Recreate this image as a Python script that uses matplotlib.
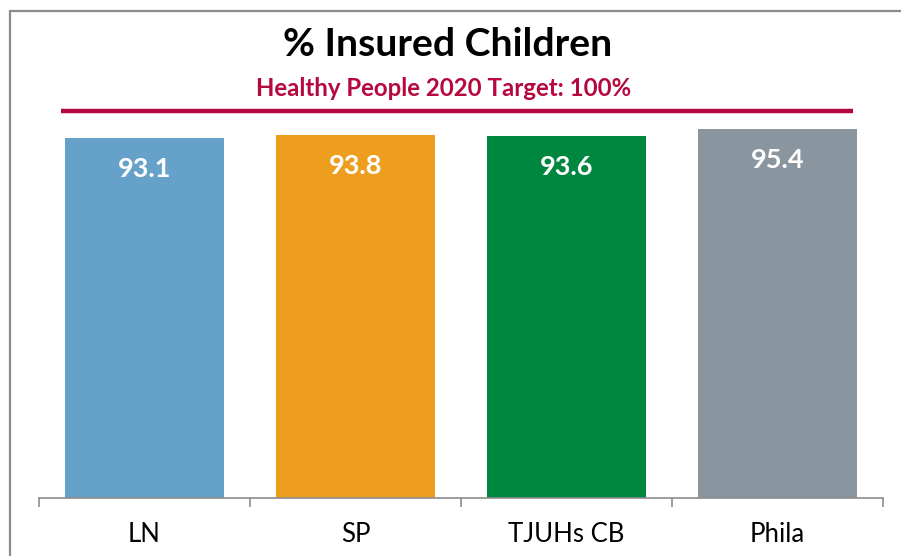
import numpy as np
import matplotlib
matplotlib.use("Agg")
import matplotlib.pyplot as plt
from matplotlib.patches import Rectangle

plt.rcParams["font.family"] = ["Lato", "DejaVu Sans"]

# data
areas = ["LN", "SP", "TJUHs CB", "Phila"]
insured = [93.1, 93.8, 93.6, 95.4]
bar_colors = ["#65A1C9", "#EE9E1E", "#00873F", "#8A969F"]
target = 100
target_label = "Healthy People 2020 Target: 100%"

W, H = 901, 556
fig = plt.figure(figsize=(W / 100, H / 100), dpi=100)

# chart border (the frame runs off the right/bottom edges of the picture)
fig.patches.append(Rectangle((10 / W, -0.05), 1.0, 1 - 11 / H + 0.05,
                             transform=fig.transFigure, fill=False,
                             edgecolor="#8C8C8C", lw=1.6))

ax = fig.add_axes([39 / W, 58 / H, (883 - 39) / W, (498 - 11) / H])
x = np.arange(len(areas))
bars = ax.bar(x, insured, width=0.755, color=bar_colors)
ax.set_xlim(-0.5, len(areas) - 0.5)
ax.set_ylim(0, 125.9)

for b, v in zip(bars, insured):
    ax.annotate(f"{v:.1f}", (b.get_x() + b.get_width() / 2, v),
                xytext=(0, -22.5), textcoords="offset points",
                ha="center", va="center", color="white",
                fontsize=19.5, fontweight="bold")

# target line
ax.plot([-0.396, 3.358], [target, target], color="#B5083F", lw=3.2,
        solid_capstyle="butt", clip_on=False)

for s in ["top", "right", "left"]:
    ax.spines[s].set_visible(False)
ax.spines["bottom"].set_color("#8C8C8C")
ax.spines["bottom"].set_linewidth(1.2)
ax.set_yticks([])
ax.set_xticks(x)
ax.set_xticklabels(areas, fontsize=18.5, color="black")
ax.tick_params(axis="x", which="major", length=0, pad=17)
ax.set_xticks(np.arange(len(areas) + 1) - 0.5, minor=True)
ax.tick_params(axis="x", which="minor", length=6.5, width=1.2,
               color="#8C8C8C", direction="out")

fig.text(448 / W, 1 - 45 / H, "% Insured Children", ha="center", va="center",
         fontsize=28.2, fontweight="bold", color="black")
fig.text(444 / W, 1 - 89 / H, target_label, ha="center", va="center",
         fontsize=17.3, fontweight="bold", color="#B5083F")

fig.savefig("out.png", dpi=100)
